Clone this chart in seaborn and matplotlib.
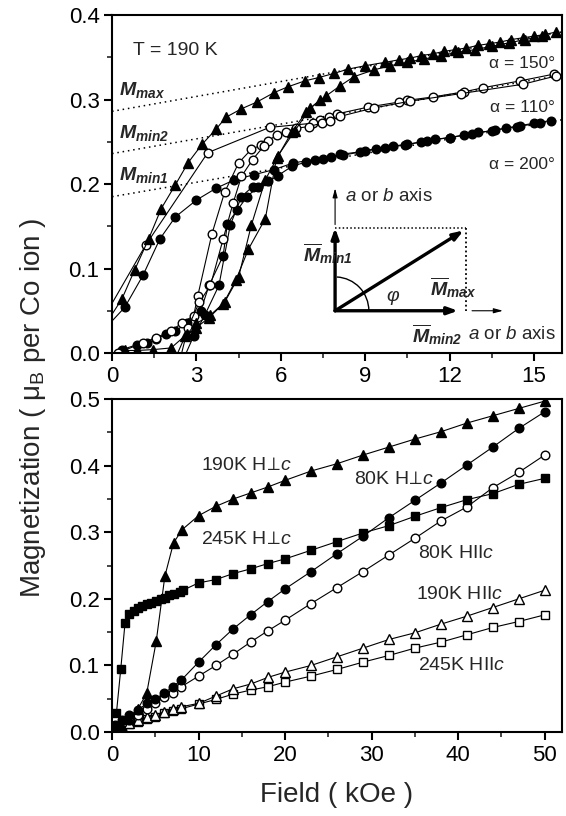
import numpy as np
import matplotlib
matplotlib.use("Agg")
import matplotlib.pyplot as plt
from matplotlib.patches import Arc
import seaborn as sns

sns.set_theme(style="ticks")
plt.rcParams['font.family'] = ['Liberation Sans', 'DejaVu Sans']
plt.rcParams['mathtext.fontset'] = 'custom'
plt.rcParams['mathtext.rm'] = 'Liberation Sans'
plt.rcParams['mathtext.it'] = 'Liberation Sans:italic'
plt.rcParams['mathtext.bf'] = 'Liberation Sans:bold'
plt.rcParams['mathtext.bfit'] = 'Liberation Sans:italic:bold'

# ---- top panel: T = 190 K loops, three angles ----
# filled triangles (alpha = 150)
tri_dn_h = [15.8, 15.4, 15.0, 14.6, 14.2, 13.8, 13.4, 13.0, 12.6, 12.2, 11.8, 11.4, 11.0, 10.6, 10.2, 9.7,
            9.0, 8.4, 7.9, 7.35, 6.85, 6.25, 5.75, 5.15, 4.6, 4.05, 3.7, 3.2, 2.7, 2.25, 1.75, 1.3, 0.8, 0.35, -0.5]
tri_dn_m = [0.380, 0.377, 0.375, 0.373, 0.371, 0.368, 0.366, 0.364, 0.361, 0.359, 0.357, 0.354, 0.352, 0.349,
            0.347, 0.344, 0.340, 0.336, 0.331, 0.326, 0.322, 0.315, 0.308, 0.297, 0.289, 0.279, 0.265, 0.247,
            0.225, 0.199, 0.171, 0.135, 0.098, 0.064, 0.02]
tri_up_h = [0.45, 0.9, 1.45, 2.1, 2.65, 3.0, 3.45, 3.95, 4.4, 4.85, 5.45, 5.85, 6.5, 7.05, 7.6, 8.1, 8.6,
            9.3, 9.9, 10.5, 11.1, 11.7, 12.3, 12.9, 13.5, 14.1, 14.7, 15.3]
tri_up_m = [0.003, 0.003, 0.004, 0.006, 0.022, 0.030, 0.042, 0.058, 0.086, 0.123, 0.159, 0.231, 0.263, 0.290,
            0.304, 0.316, 0.327, 0.335, 0.340, 0.344, 0.348, 0.352, 0.356, 0.359, 0.363, 0.367, 0.371, 0.375]
tri_2_h = [2.2, 2.6, 3.0, 3.5, 4.0, 4.5, 4.95, 5.45, 5.9, 6.4, 6.9, 7.4]
tri_2_m = [-0.01, 0.020, 0.035, 0.045, 0.060, 0.090, 0.151, 0.205, 0.233, 0.262, 0.285, 0.300]

# open circles (alpha = 110)
oc_dn_h = [15.7, 14.5, 13.2, 12.5, 11.4, 10.5, 10.2, 9.1, 8.0, 7.7, 7.4, 7.15, 5.6, 3.4, 1.2, -0.5]
oc_dn_m = [0.330, 0.322, 0.314, 0.309, 0.303, 0.299, 0.297, 0.291, 0.283, 0.279, 0.276, 0.272, 0.267,
           0.237, 0.128, 0.03]
oc_up_h = [0.2, 1.1, 1.55, 2.1, 2.5, 2.9, 3.05, 3.55, 4.0, 4.5, 4.95, 5.3, 5.55, 5.85, 6.2, 6.55, 7.0,
           7.45, 7.75, 8.1, 9.3, 10.6, 12.4, 14.6, 15.8]
oc_up_m = [0.0, 0.012, 0.018, 0.026, 0.036, 0.044, 0.068, 0.141, 0.190, 0.225, 0.241, 0.246, 0.251, 0.258,
           0.262, 0.266, 0.268, 0.272, 0.274, 0.280, 0.290, 0.298, 0.307, 0.318, 0.328]
oc_2_h = [2.4, 2.7, 3.1, 3.5, 3.95, 4.3, 4.6, 5.0, 5.4]
oc_2_m = [-0.01, 0.030, 0.060, 0.080, 0.135, 0.177, 0.209, 0.229, 0.245]

# filled circles (alpha = 200)
fc_dn_h = [15.6, 15.0, 14.5, 14.0, 13.5, 13.0, 12.5, 12.0, 11.5, 11.0, 10.5, 10.0, 9.4, 8.8, 8.1, 7.8, 7.2,
           6.45, 5.75, 5.05, 4.35, 3.7, 3.0, 2.25, 1.7, 1.1, 0.45, -0.5]
fc_dn_m = [0.275, 0.272, 0.269, 0.266, 0.263, 0.261, 0.258, 0.255, 0.253, 0.250, 0.247, 0.245, 0.242, 0.238,
           0.235, 0.232, 0.229, 0.225, 0.217, 0.211, 0.205, 0.195, 0.181, 0.161, 0.135, 0.092, 0.054, 0.02]
fc_up_h = [0.35, 0.9, 1.25, 1.55, 1.9, 2.25, 2.65, 3.15, 3.45, 3.95, 4.1, 4.45, 4.8, 5.2, 5.55, 5.9, 6.4,
           6.9, 7.5, 8.2, 9.0, 9.7, 10.4, 11.2, 12.0, 12.8, 13.6, 14.4, 15.2]
fc_up_m = [0.004, 0.010, 0.012, 0.016, 0.022, 0.026, 0.035, 0.050, 0.080, 0.115, 0.153, 0.169, 0.185, 0.197,
           0.203, 0.210, 0.221, 0.226, 0.230, 0.234, 0.239, 0.243, 0.246, 0.251, 0.255, 0.259, 0.264, 0.268, 0.272]
fc_2_h = [2.5, 2.9, 3.3, 3.8, 4.2, 4.6, 5.0]
fc_2_m = [-0.01, 0.020, 0.045, 0.080, 0.151, 0.185, 0.197]

# linear extrapolation lines (dotted)
fit_h = [0.0, 16.0]
fit_max = [0.286, 0.380]
fit_min2 = [0.236, 0.329]
fit_min1 = [0.185, 0.276]

# ---- bottom panel ----
hb = [0.3, 1.1, 2.0, 3.0, 4.0, 5.0, 6.0, 7.0, 8.0, 10.0, 12.0, 14.0, 16.0, 18.0, 20.0, 23.0, 26.0, 29.0,
      32.0, 35.0, 38.0, 41.0, 44.0, 47.0, 50.0]
m80_perp = [0.010, 0.018, 0.025, 0.033, 0.043, 0.050, 0.058, 0.068, 0.078, 0.105, 0.131, 0.155, 0.176, 0.196,
            0.215, 0.241, 0.268, 0.294, 0.322, 0.348, 0.374, 0.401, 0.428, 0.456, 0.481]
m80_par = [0.007, 0.013, 0.018, 0.025, 0.034, 0.044, 0.053, 0.059, 0.068, 0.084, 0.100, 0.117, 0.135, 0.152,
           0.168, 0.193, 0.217, 0.241, 0.266, 0.291, 0.317, 0.338, 0.367, 0.390, 0.416]
m190_par = [0.004, 0.008, 0.013, 0.018, 0.022, 0.026, 0.030, 0.034, 0.038, 0.043, 0.054, 0.065, 0.072, 0.082,
            0.090, 0.100, 0.113, 0.126, 0.139, 0.149, 0.162, 0.174, 0.187, 0.200, 0.213]
m245_par = [0.004, 0.008, 0.012, 0.015, 0.019, 0.023, 0.028, 0.032, 0.035, 0.042, 0.049, 0.057, 0.063, 0.068,
            0.075, 0.084, 0.094, 0.105, 0.115, 0.126, 0.135, 0.146, 0.157, 0.166, 0.176]
h190_perp = [0.5, 1.0, 2.0, 3.0, 4.0, 5.1, 6.1, 7.1, 8.1, 10.0, 12.0, 14.0, 16.0, 18.0, 20.0, 23.0, 26.0,
             29.0, 32.0, 35.0, 38.0, 41.0, 44.0, 47.0, 50.0]
m190_perp = [0.006, 0.010, 0.020, 0.035, 0.058, 0.136, 0.234, 0.284, 0.304, 0.325, 0.339, 0.350, 0.359, 0.368,
             0.378, 0.392, 0.403, 0.416, 0.428, 0.440, 0.451, 0.464, 0.475, 0.486, 0.497]
h245_perp = [0.5, 1.0, 1.5, 2.0, 2.5, 3.0, 3.5, 4.0, 4.5, 5.1, 5.7, 6.1, 6.6, 7.2, 7.8, 8.2, 10.0, 12.0, 14.0,
             16.0, 18.0, 20.0, 23.0, 26.0, 29.0, 32.0, 35.0, 38.0, 41.0, 44.0, 47.0, 50.0]
m245_perp = [0.028, 0.094, 0.164, 0.178, 0.182, 0.186, 0.189, 0.192, 0.194, 0.197, 0.200, 0.202, 0.206, 0.208,
             0.211, 0.213, 0.224, 0.229, 0.238, 0.245, 0.253, 0.260, 0.273, 0.286, 0.299, 0.310, 0.324, 0.337,
             0.349, 0.358, 0.372, 0.381]

fig = plt.figure(figsize=(5.66, 8.16), dpi=100)
ax1 = fig.add_axes([0.198, 0.5674, 0.795, 0.4142])
ax2 = fig.add_axes([0.198, 0.1029, 0.795, 0.408])

line_kw = dict(color='black', lw=0.8, clip_on=True)
def series(ax, h, m, marker, filled, ms):
    ax.plot(h, m, marker=marker, ms=ms, mec='black', mew=1.0,
            mfc='black' if filled else 'white', **line_kw)

# dotted fits
for fm in (fit_max, fit_min2, fit_min1):
    ax1.plot(fit_h, fm, ls=(0, (1, 2.5)), color='black', lw=1.1)

series(ax1, fc_dn_h, fc_dn_m, 'o', True, 6.2)
series(ax1, fc_up_h, fc_up_m, 'o', True, 6.2)
series(ax1, fc_2_h, fc_2_m, 'o', True, 6.2)
series(ax1, oc_dn_h, oc_dn_m, 'o', False, 6.2)
series(ax1, oc_up_h, oc_up_m, 'o', False, 6.2)
series(ax1, oc_2_h, oc_2_m, 'o', False, 6.2)
series(ax1, tri_dn_h, tri_dn_m, '^', True, 7.0)
series(ax1, tri_up_h, tri_up_m, '^', True, 7.0)
series(ax1, tri_2_h, tri_2_m, '^', True, 7.0)

ax1.set_xlim(0, 16)
ax1.set_ylim(0, 0.4)
ax1.set_xticks([0, 3, 6, 9, 12, 15])
ax1.set_xticks(np.arange(1.5, 16, 3), minor=True)
ax1.set_yticks([0.0, 0.1, 0.2, 0.3, 0.4])
ax1.set_yticks(np.arange(0.05, 0.4, 0.1), minor=True)
ax1.set_yticklabels(['0.0', '0.1', '0.2', '0.3', '0.4'])

ax1.text(0.75, 0.358, 'T = 190 K', fontsize=14, va='center')
ax1.text(15.75, 0.343, 'α = 150°', fontsize=12.5, ha='right', va='center')
ax1.text(15.75, 0.290, 'α = 110°', fontsize=12.5, ha='right', va='center')
ax1.text(15.75, 0.223, 'α = 200°', fontsize=12.5, ha='right', va='center')
ax1.text(0.25, 0.305, r'$\mathbfit{M}_{\mathbfit{max}}$', fontsize=14)
ax1.text(0.25, 0.255, r'$\mathbfit{M}_{\mathbfit{min2}}$', fontsize=14)
ax1.text(0.25, 0.205, r'$\mathbfit{M}_{\mathbfit{min1}}$', fontsize=14)

# vector diagram
ox, oy = 7.93, 0.05
thick = dict(arrowstyle='-|>,head_length=0.5,head_width=0.18', color='black', lw=2.4, shrinkA=0, shrinkB=0)
thin = dict(arrowstyle='-|>,head_length=0.45,head_width=0.12', color='black', lw=0.8, shrinkA=0, shrinkB=0)
ax1.annotate('', xy=(ox, 0.148), xytext=(ox, oy), arrowprops=thick)
ax1.annotate('', xy=(12.3, oy), xytext=(ox, oy), arrowprops=thick)
ax1.annotate('', xy=(12.5, 0.145), xytext=(ox, oy), arrowprops=thick)
ax1.annotate('', xy=(ox, 0.195), xytext=(ox, 0.152), arrowprops=thin)
ax1.annotate('', xy=(13.9, oy), xytext=(12.8, oy), arrowprops=thin)
ax1.plot([ox, 12.6], [0.148, 0.148], ls=(0, (1, 1.5)), color='black', lw=1.1)
ax1.plot([12.6, 12.6], [0.148, oy], ls=(0, (1, 1.5)), color='black', lw=1.3)
ax1.add_patch(Arc((ox, oy), 2.4, 0.08, theta1=0, theta2=32, color='black', lw=1.0))
ax1.text(10.0, 0.066, r'$\varphi$', fontsize=14, ha='center', va='center')
ax1.text(8.3, 0.185, r'$\mathit{a}$ or $\mathit{b}$ axis', fontsize=13.5, va='center')
ax1.text(12.65, 0.022, r'$\mathit{a}$ or $\mathit{b}$ axis', fontsize=13.5, va='center')
ax1.text(6.8, 0.118, r'$\overline{\mathbfit{M}}_{\mathbfit{min1}}$', fontsize=14, va='center')
ax1.text(11.3, 0.078, r'$\overline{\mathbfit{M}}_{\mathbfit{max}}$', fontsize=14, va='center')
ax1.text(10.65, 0.022, r'$\overline{\mathbfit{M}}_{\mathbfit{min2}}$', fontsize=14, va='center')

# bottom panel
series(ax2, hb, m245_par, 's', False, 6.2)
series(ax2, hb, m190_par, '^', False, 7.0)
series(ax2, hb, m80_par, 'o', False, 6.2)
series(ax2, hb, m80_perp, 'o', True, 6.2)
series(ax2, h245_perp, m245_perp, 's', True, 6.2)
series(ax2, h190_perp, m190_perp, '^', True, 7.0)

ax2.set_xlim(0, 52)
ax2.set_ylim(0, 0.5)
ax2.set_xticks([0, 10, 20, 30, 40, 50])
ax2.set_xticks(np.arange(5, 52, 10), minor=True)
ax2.set_yticks([0.0, 0.1, 0.2, 0.3, 0.4, 0.5])
ax2.set_yticks(np.arange(0.05, 0.5, 0.1), minor=True)
ax2.set_yticklabels(['0.0', '0.1', '0.2', '0.3', '0.4', '0.5'])

ax2.text(10.3, 0.400, r'190K H$\!{\perp}\!\mathit{c}$', fontsize=14, va='center')
ax2.text(28.0, 0.380, r'80K H$\!{\perp}\!\mathit{c}$', fontsize=14, va='center')
ax2.text(10.3, 0.289, r'245K H$\!{\perp}\!\mathit{c}$', fontsize=14, va='center')
ax2.text(35.3, 0.268, r'80K HII$\mathit{c}$', fontsize=14, va='center')
ax2.text(35.1, 0.206, r'190K HII$\mathit{c}$', fontsize=14, va='center')
ax2.text(35.3, 0.100, r'245K HII$\mathit{c}$', fontsize=14, va='center')

ax2.set_xlabel('Field ( kOe )', fontsize=20, labelpad=12)
fig.text(0.058, 0.50, 'Magnetization ( μ$_\\mathregular{B}$ per Co ion )', rotation=90,
         fontsize=20, ha='center', va='center')

for ax in (ax1, ax2):
    for s in ax.spines.values():
        s.set_linewidth(1.5)
        s.set_color('black')
    ax.tick_params(which='major', direction='out', length=6, width=1.5, labelsize=16, colors='black',
                   top=False, right=False, pad=3)
    ax.tick_params(which='minor', direction='out', length=3.5, width=1.2, top=False, right=False)
    ax.set_facecolor('white')

fig.savefig('out.png', dpi=100, facecolor='white')
